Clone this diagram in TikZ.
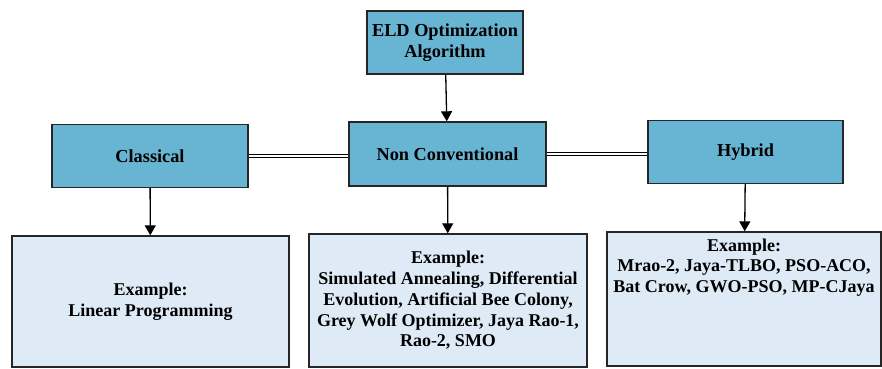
\documentclass[tikz,border=0pt]{standalone}
\usepackage{fontspec}
\setmainfont{Liberation Serif}
\usetikzlibrary{arrows.meta}

\definecolor{boxblue}{RGB}{104,180,211}
\definecolor{boxlight}{RGB}{222,235,247}

\tikzset{
	headbox/.style={draw=black!85, line width=1.4pt, fill=boxblue, align=center,
		font=\bfseries\fontsize{18.3}{21.5}\selectfont},
	exbox/.style={draw=black!85, line width=1.4pt, fill=boxlight, align=center,
		font=\bfseries\fontsize{18}{20.8}\selectfont},
	arr/.style={line width=1.3pt, -{Triangle[length=10pt,width=11pt]}},
	link/.style={line width=0.9pt, double, double distance=2.6pt}
}

\begin{document}
\begin{tikzpicture}[x=1pt,y=-1pt]
			%%%%% START %%%%%
			\useasboundingbox (0,0) rectangle (882,368);
			
			\node[headbox, minimum width=156pt, minimum height=63pt] (eld) at (445, 42.5) {ELD Optimization\\Algorithm};
			
			\node[headbox, minimum width=196pt, minimum height=63pt] (classical) at (150, 156) {Classical};
			\node[headbox, minimum width=197pt, minimum height=64pt] (noncon) at (447.5, 154) {Non Conventional};
			\node[headbox, minimum width=195pt, minimum height=63pt] (hybrid) at (745.5, 152) {Hybrid};
			
			\node[exbox, minimum width=277pt, minimum height=131pt] (clex) at (150.5, 301.5) {Example:\\Linear Programming};
			\node[exbox, minimum width=278pt, minimum height=133pt] (ncex) at (448, 300.5) {Example:\\Simulated Annealing, Differential\\Evolution, Artificial Bee Colony,\\Grey Wolf Optimizer, Jaya Rao-1,\\Rao-2, SMO};
			\node[exbox, minimum width=274pt, minimum height=134pt] (hyex) at (744, 299) {};
			\node[font=\bfseries\fontsize{18}{20.8}\selectfont, align=center] (hytext) at (744, 267.5) {Example:\\Mrao-2, Jaya-TLBO, PSO-ACO,\\Bat Crow, GWO-PSO, MP-CJaya};
			
			\draw[arr] (eld) -- (noncon);
			\draw[arr] (classical) -- (clex);
			\draw[arr] (noncon) -- (ncex);
			\draw[arr] (hybrid) -- (hyex);
			
			\draw[link] (classical.east) -- (classical.east -| noncon.west);
			\draw[link] (noncon.east) -- (noncon.east -| hybrid.west);
			
			%%%%% END %%%%%
\end{tikzpicture}
\end{document}
